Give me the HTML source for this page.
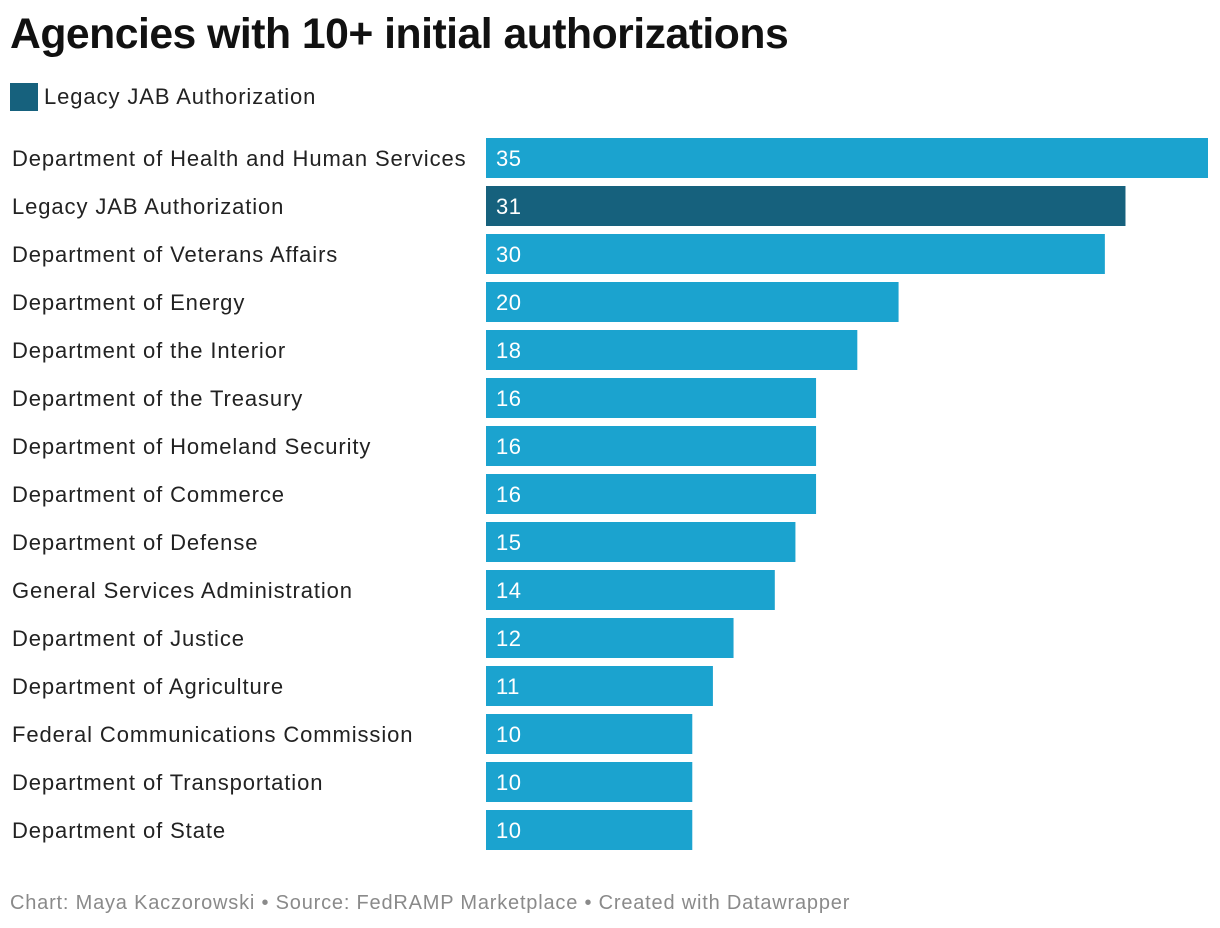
<!DOCTYPE html>
<html><head><meta charset="utf-8"><style>
body{margin:0;width:1220px;height:928px;background:#fff;font-family:"Liberation Sans",Arial,sans-serif;position:relative;overflow:hidden}
#title{position:absolute;left:10px;top:10px;font-size:42.7px;font-weight:bold;color:#111;letter-spacing:-0.5px}
#legend{position:absolute;left:10px;top:83px;display:flex;align-items:center;font-size:22px;color:#222;letter-spacing:0.9px}
#legend span.sw{width:28px;height:28px;background:#16617d;margin-right:6px;display:inline-block}
#footer{position:absolute;left:10px;top:892px;font-size:20px;color:#8a8a8a;letter-spacing:0.8px}
svg{position:absolute;left:0;top:0}
</style></head><body>
<div id="title">Agencies with 10+ initial authorizations</div>
<div id="legend"><span class="sw"></span><span>Legacy JAB Authorization</span></div>
<svg id="chart" width="1220" height="928"></svg>
<div id="footer">Chart: Maya Kaczorowski • Source: FedRAMP Marketplace • Created with Datawrapper</div>
<script>
const categories=["Department of Health and Human Services","Legacy JAB Authorization","Department of Veterans Affairs","Department of Energy","Department of the Interior","Department of the Treasury","Department of Homeland Security","Department of Commerce","Department of Defense","General Services Administration","Department of Justice","Department of Agriculture","Federal Communications Commission","Department of Transportation","Department of State"];
const values=[35,31,30,20,18,16,16,16,15,14,12,11,10,10,10];
const highlighted=["Legacy JAB Authorization"];
const svg=document.getElementById('chart');
const NS='http://www.w3.org/2000/svg';
const x0=486,unit=722/35,top0=138,pitch=48,bh=40;
function xs(v){return v*unit;}
function ys(i){return top0+i*pitch;}
categories.forEach((c,i)=>{
  const y=ys(i);
  const lab=document.createElementNS(NS,'text');
  lab.setAttribute('x',12);lab.setAttribute('y',y+bh/2+8);
  lab.setAttribute('font-size','22');lab.setAttribute('fill','#222');
  lab.setAttribute('letter-spacing','0.9');
  lab.textContent=c;
  
  
  svg.appendChild(lab);
  const r=document.createElementNS(NS,'rect');
  r.setAttribute('x',x0);r.setAttribute('y',y);r.setAttribute('width',xs(values[i]));r.setAttribute('height',bh);
  r.setAttribute('fill',highlighted.includes(c)?'#16617d':'#1ba3cf');
  
  
  svg.appendChild(r);
  const t=document.createElementNS(NS,'text');
  t.setAttribute('x',x0+10);t.setAttribute('y',y+bh/2+8);
  t.setAttribute('font-size','22');t.setAttribute('fill','#fff');
  t.setAttribute('letter-spacing','0.5');
  t.textContent=values[i];
  
  
  svg.appendChild(t);
});
</script>
</body></html>
